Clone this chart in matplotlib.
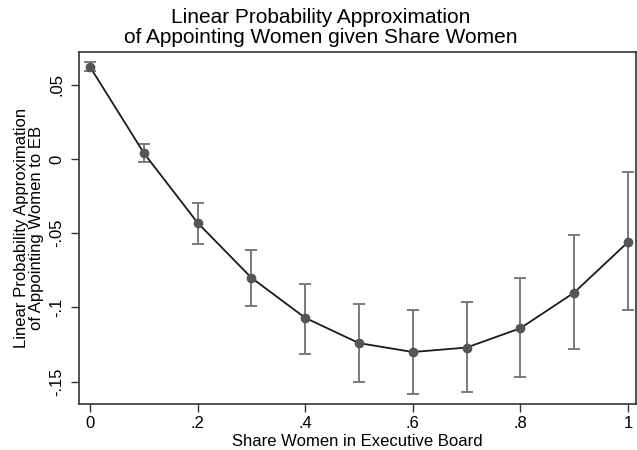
#!/usr/bin/env python3
# plot.py
# Linear probability approximation with confidence intervals, Stata-like look
import matplotlib
matplotlib.use("Agg")
import matplotlib.pyplot as plt

# share of women in executive board
share = [0.0, 0.1, 0.2, 0.3, 0.4, 0.5, 0.6, 0.7, 0.8, 0.9, 1.0]
# point estimates
estimate = [0.062, 0.004, -0.043, -0.080, -0.107, -0.124, -0.130, -0.127, -0.114, -0.090, -0.056]
# confidence bounds
upper = [0.065, 0.010, -0.030, -0.061, -0.084, -0.098, -0.102, -0.096, -0.080, -0.051, -0.009]
lower = [0.059, -0.002, -0.057, -0.099, -0.131, -0.150, -0.158, -0.157, -0.147, -0.128, -0.102]

x_ticks = [0, 0.2, 0.4, 0.6, 0.8, 1.0]
x_labels = ["0", ".2", ".4", ".6", ".8", "1"]
y_ticks = [0.05, 0, -0.05, -0.1, -0.15]
y_labels = [".05", "0", "-.05", "-.1", "-.15"]


def main():
    plt.rcParams["font.family"] = ["Liberation Sans", "DejaVu Sans"]

    fig = plt.figure(figsize=(6.37, 4.5), dpi=100)
    ax = fig.add_axes([79 / 637, 1 - 404 / 450, 557 / 637, 352 / 450])

    yerr_low = [e - l for e, l in zip(estimate, lower)]
    yerr_up = [u - e for e, u in zip(estimate, upper)]

    # error bars
    ax.errorbar(share, estimate, yerr=[yerr_low, yerr_up], fmt="none",
                ecolor="#7a7a7a", elinewidth=1.4, capsize=4, capthick=1.4, zorder=2)
    # connecting line
    ax.plot(share, estimate, color="#1a1a1a", linewidth=1.3, zorder=3)
    # markers
    ax.plot(share, estimate, "o", color="#555555", markersize=6, zorder=4)

    ax.set_xlim(-0.0205, 1.015)
    ax.set_ylim(-0.165, 0.072)

    ax.set_xticks(x_ticks)
    ax.set_xticklabels(x_labels, fontsize=12)
    ax.set_yticks(y_ticks)
    ax.set_yticklabels(y_labels, fontsize=12, rotation=90, va="center")

    ax.tick_params(direction="out", length=5.5, width=1, color="#333333")
    ax.tick_params(axis="y", pad=5)
    for s in ax.spines.values():
        s.set_color("#333333")
        s.set_linewidth(1.2)

    ax.set_xlabel("Share Women in Executive Board", fontsize=12, labelpad=2)
    ax.set_ylabel("Linear Probability Approximation\nof Appointing Women to EB",
                  fontsize=12, linespacing=0.95, labelpad=4)

    fig.text(0.504, 0.982, "Linear Probability Approximation\nof Appointing Women given Share Women",
             ha="center", va="top", fontsize=15, linespacing=1.08)

    fig.savefig("out.png", dpi=100)


if __name__ == "__main__":
    main()
